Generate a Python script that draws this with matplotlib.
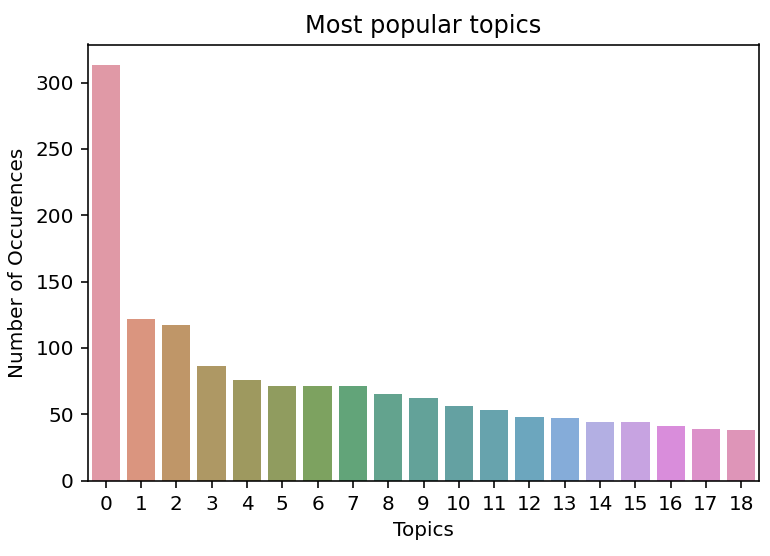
import matplotlib
matplotlib.use("Agg")
import matplotlib.pyplot as plt
import seaborn as sns
import pandas as pd

topics = [str(i) for i in range(19)]
counts = [313, 122, 117, 86, 76, 71, 71, 71, 65, 62, 56, 53, 48, 47, 44, 44, 41, 39, 38]

df = pd.DataFrame({"Topics": topics, "Number of Occurences": counts})
colors = [sns.desaturate(sns.desaturate(c, 0.75), 0.8) for c in sns.husl_palette(len(topics))]

W, H, DPI = 770, 556, 144
fig = plt.figure(figsize=(W / DPI, H / DPI), dpi=DPI)
ax = fig.add_axes([88/W, 1 - 480.5/H, (759-88)/W, (480.5-44.5)/H])
sns.barplot(data=df, x="Topics", y="Number of Occurences", hue="Topics",
            palette=colors, legend=False, ax=ax, saturation=1, alpha=0.88)
ax.set_title("Most popular topics", fontsize=12)
ax.set_xlabel("Topics")
ax.set_ylabel("Number of Occurences")
fig.savefig("out.png", dpi=DPI)
